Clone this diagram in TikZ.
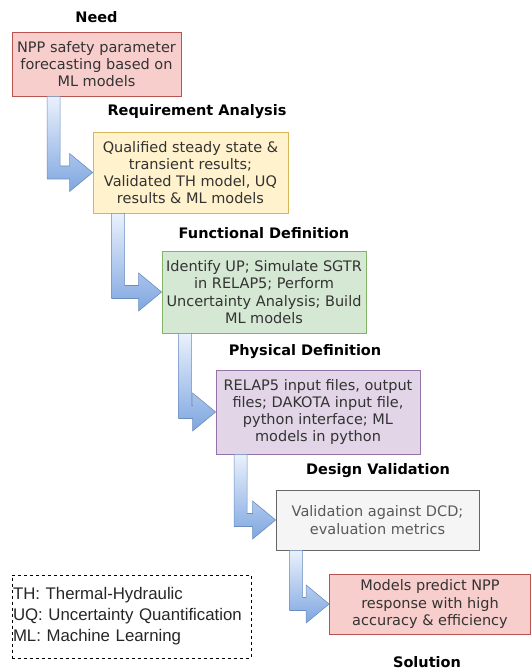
\documentclass[tikz,border=0pt]{standalone}
\usepackage{fontspec}
\usepackage{tikz}
\usetikzlibrary{calc,positioning}

\newfontfamily\verdanafont{DejaVu Sans}
\newfontfamily\arialfont{Liberation Sans}

\definecolor{redfill}{HTML}{F8CECC}
\definecolor{redline}{HTML}{B85450}
\definecolor{yellowfill}{HTML}{FFF2CC}
\definecolor{yellowline}{HTML}{D6B656}
\definecolor{greenfill}{HTML}{D5E8D4}
\definecolor{greenline}{HTML}{82B366}
\definecolor{purplefill}{HTML}{E1D5E7}
\definecolor{purpleline}{HTML}{9673A6}
\definecolor{grayfill}{HTML}{F5F5F5}
\definecolor{grayline}{HTML}{666666}
\definecolor{arrowtop}{HTML}{EAF1FC}
\definecolor{arrowbottom}{HTML}{7EA6E0}
\definecolor{arrowline}{HTML}{6C8EBF}

\tikzset{
    stagebox/.style={draw, line width=0.8pt, align=center, inner sep=2pt,
        text=black!80, font=\verdanafont\fontsize{14.5}{17.2}\selectfont},
    stagetitle/.style={font=\verdanafont\bfseries\fontsize{14.5}{17}\selectfont},
    arrowbody/.style={top color=arrowtop, bottom color=arrowbottom, draw=arrowline, line width=0.6pt},
}

\begin{document}
\begin{tikzpicture}[x=1pt,y=1pt]
    % half shaft width, half head height and head length of the bent arrows
    \pgfmathsetlengthmacro{\Wsh}{6.5pt}
    \pgfmathsetlengthmacro{\Hhd}{19pt}
    \pgfmathsetlengthmacro{\Lhd}{23pt}

    \useasboundingbox (0,0) rectangle (531,672);

    % stage boxes
    \node[stagebox, fill=redfill, draw=redline, minimum width=169, minimum height=64] (need) at (96.5,608)
        {NPP safety parameter\\forecasting based on\\ML models};
    \node[stagebox, fill=yellowfill, draw=yellowline, minimum width=195, minimum height=81] (req) at (190.5,499.5)
        {Qualified steady state \&\\transient results;\\Validated TH model, UQ\\results \& ML models};
    \node[stagebox, fill=greenfill, draw=greenline, minimum width=204, minimum height=82] (func) at (264,380)
        {Identify UP; Simulate SGTR\\in RELAP5; Perform\\Uncertainty Analysis; Build\\ML models};
    \node[stagebox, fill=purplefill, draw=purpleline, minimum width=204, minimum height=84] (phys) at (318,260)
        {RELAP5 input files, output\\files; DAKOTA input file,\\python interface; ML\\models in python};
    \node[stagebox, fill=grayfill, draw=grayline, text=black!65, minimum width=203, minimum height=60] (valid) at (377.5,152)
        {Validation against DCD;\\evaluation metrics};
    \node[stagebox, fill=redfill, draw=redline, minimum width=201, minimum height=60] (sol) at (430,68)
        {Models predict NPP\\response with high\\accuracy \& efficiency};

    % stage titles
    \node[stagetitle] (need_t) at (96.5,655) {Need};
    \node[stagetitle] (req_t) at (197,560) {Requirement Analysis};
    \node[stagetitle] (func_t) at (264,439) {Functional Definition};
    \node[stagetitle] (phys_t) at (305,320) {Physical Definition};
    \node[stagetitle] (valid_t) at (378,201) {Design Validation};
    \node[stagetitle] (sol_t) at (427,10) {Solution};

    % bent block arrows from one stage to the next
    \shade[arrowbody] let \p1=(need.south west), \p2=(req.west) in
        (\x1+42pt-\Wsh,\y1) -- (\x1+42pt-\Wsh,\y2-\Wsh) -- (\x2-\Lhd,\y2-\Wsh) -- (\x2-\Lhd,\y2-\Hhd) -- (\p2)
        -- (\x2-\Lhd,\y2+\Hhd) -- (\x2-\Lhd,\y2+\Wsh) -- (\x1+42pt+\Wsh,\y2+\Wsh) -- (\x1+42pt+\Wsh,\y1) -- cycle;
    \shade[arrowbody] let \p1=(req.south west), \p2=(func.west) in
        (\x1+25.5pt-\Wsh,\y1) -- (\x1+25.5pt-\Wsh,\y2-\Wsh) -- (\x2-\Lhd,\y2-\Wsh) -- (\x2-\Lhd,\y2-\Hhd) -- (\p2)
        -- (\x2-\Lhd,\y2+\Hhd) -- (\x2-\Lhd,\y2+\Wsh) -- (\x1+25.5pt+\Wsh,\y2+\Wsh) -- (\x1+25.5pt+\Wsh,\y1) -- cycle;
    \shade[arrowbody] let \p1=(func.south west), \p2=(phys.west) in
        (\x1+23.5pt-\Wsh,\y1) -- (\x1+23.5pt-\Wsh,\y2-\Wsh) -- (\x2-\Lhd,\y2-\Wsh) -- (\x2-\Lhd,\y2-\Hhd) -- (\p2)
        -- (\x2-\Lhd,\y2+\Hhd) -- (\x2-\Lhd,\y2+\Wsh) -- (\x1+23.5pt+\Wsh,\y2+\Wsh) -- (\x1+23.5pt+\Wsh,\y1) -- cycle;
    \shade[arrowbody] let \p1=(phys.south west), \p2=(valid.west) in
        (\x1+25pt-\Wsh,\y1) -- (\x1+25pt-\Wsh,\y2-\Wsh) -- (\x2-\Lhd,\y2-\Wsh) -- (\x2-\Lhd,\y2-\Hhd) -- (\p2)
        -- (\x2-\Lhd,\y2+\Hhd) -- (\x2-\Lhd,\y2+\Wsh) -- (\x1+25pt+\Wsh,\y2+\Wsh) -- (\x1+25pt+\Wsh,\y1) -- cycle;
    \shade[arrowbody] let \p1=(valid.south west), \p2=(sol.west) in
        (\x1+20.5pt-\Wsh,\y1) -- (\x1+20.5pt-\Wsh,\y2-\Wsh) -- (\x2-\Lhd,\y2-\Wsh) -- (\x2-\Lhd,\y2-\Hhd) -- (\p2)
        -- (\x2-\Lhd,\y2+\Hhd) -- (\x2-\Lhd,\y2+\Wsh) -- (\x1+20.5pt+\Wsh,\y2+\Wsh) -- (\x1+20.5pt+\Wsh,\y1) -- cycle;

    % abbreviations
    \node[draw, dashed, line width=0.8pt, text width=237pt, inner xsep=1pt, minimum height=83, align=left,
        text=black!85, font=\arialfont\fontsize{16.8}{21}\selectfont] (legend) at (131.5,55.5)
        {TH: Thermal-Hydraulic\\UQ: Uncertainty Quantification\\ML: Machine Learning};
\end{tikzpicture}
\end{document}
